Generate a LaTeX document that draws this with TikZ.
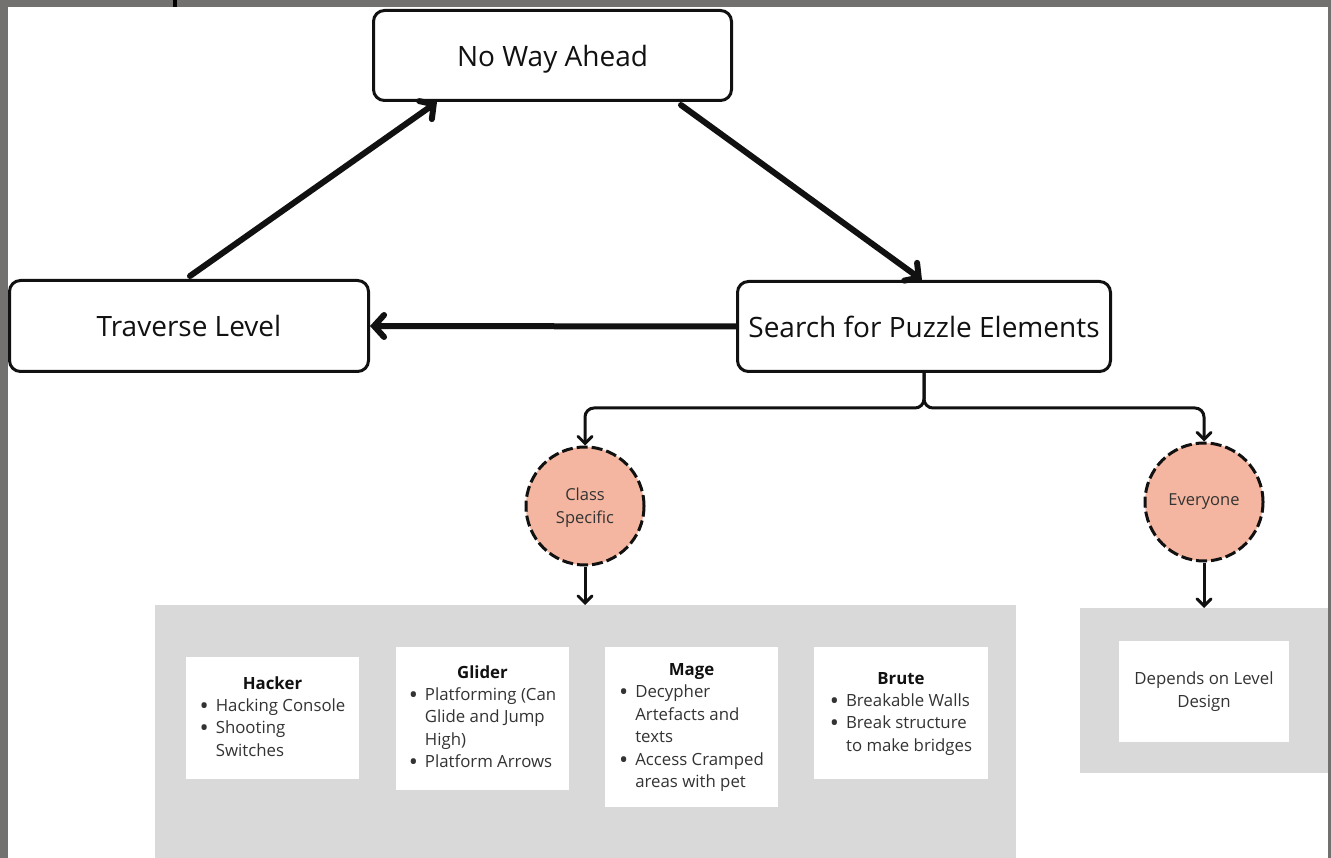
\documentclass[tikz,border=0pt]{standalone}
\usepackage{fontspec}
\setmainfont{Open Sans}
\usetikzlibrary{arrows.meta,shapes.geometric}
\definecolor{frame}{HTML}{737070}
\definecolor{panel}{HTML}{D9D9D9}
\definecolor{salmon}{HTML}{F4B6A0}
\definecolor{txt}{HTML}{333333}
\definecolor{ink}{HTML}{111111}
\tikzset{
  mainbox/.style={draw=ink,line width=3pt,rounded corners=11pt,fill=white,inner sep=0pt,
    font=\fontsize{28}{32}\selectfont,text=ink,text height=23pt,text depth=1pt},
  bigarrow/.style={draw=ink,line width=6pt,line cap=round,-{Straight Barb[length=10pt,width=22pt,line cap=round]}},
  tree/.style={draw=ink,line width=3pt,rounded corners=9pt,-{Straight Barb[length=7pt,width=14pt,line cap=round]}},
  circ/.style={circle,draw=ink,fill=salmon,line width=3pt,dash pattern=on 11pt off 4pt,inner sep=0pt,
    minimum size=118pt,align=center,font=\fontsize{16.5}{23}\selectfont,text=txt},
  panelbox/.style={fill=panel,draw=none,inner sep=0pt,anchor=north west},
  wbox/.style={fill=white,draw=none,inner sep=0pt,align=center,font=\fontsize{16.8}{22.5}\selectfont,text=txt},
}
\newcommand{\bul}{\raisebox{-3.2pt}{\scalebox{1.45}{\textbullet}}}
\begin{document}
\begin{tikzpicture}[x=1pt,y=-1pt]
\useasboundingbox (0,0) rectangle (1331,858);
% frame
\fill[frame] (0,0) rectangle (1331,858);
\fill[white] (8,7.5) rectangle (1327.7,858);
\fill[black] (172.5,0) rectangle (177,7.5);

% main boxes
\node[mainbox,minimum width=358pt,minimum height=90pt] (nowa) at (552.5,55.5) {No Way Ahead};
\node[mainbox,minimum width=359pt,minimum height=91pt] (trav) at (189,326) {Traverse Level};
\node[mainbox,minimum width=373pt,minimum height=90pt] (srch) at (924,326.5) {Search for Puzzle Elements};

% panels
\node[panelbox,minimum width=861pt,minimum height=253pt] (lpan) at (155,605) {};
\node[panelbox,minimum width=247.7pt,minimum height=165pt] (rpan) at (1080,608) {};

% circles
\node[circ] (cls) at (585,506) {\\[-8pt]Class\\Specific};
\node[circ] (evr) at (1204,502) {\raisebox{-2pt}{Everyone}};

% white boxes
\node[wbox,minimum width=173pt,minimum height=122pt] (hack) at (272.5,718) {%
\begin{tabular}{@{}c@{}}\textbf{\color{ink}Hacker}\\[-0.5pt]
\begin{tabular}[t]{@{}l@{\hspace{7pt}}l@{}}\bul&Hacking Console\\\bul&Shooting\\&Switches\end{tabular}\end{tabular}};
\node[wbox,minimum width=173pt,minimum height=143pt] (glid) at (482.5,718.5) {%
\begin{tabular}{@{}c@{}}\textbf{\color{ink}Glider}\\[-0.5pt]
\begin{tabular}[t]{@{}l@{\hspace{7pt}}l@{}}\bul&Platforming (Can\\&Glide and Jump\\&High)\\\bul&Platform Arrows\end{tabular}\end{tabular}};
\node[wbox,minimum width=173pt,minimum height=160pt] (mage) at (691.5,727) {%
\begin{tabular}{@{}c@{}}\textbf{\color{ink}Mage}\\[-0.5pt]
\begin{tabular}[t]{@{}l@{\hspace{7pt}}l@{}}\bul&Decypher\\&Artefacts and\\&texts\\\bul&Access Cramped\\&areas with pet\end{tabular}\end{tabular}};
\node[wbox,minimum width=174pt,minimum height=132pt] (brut) at (901,713) {%
\begin{tabular}{@{}c@{}}\textbf{\color{ink}Brute}\\[-0.5pt]
\begin{tabular}[t]{@{}l@{\hspace{7pt}}l@{}}\bul&Breakable Walls\\\bul&Break structure\\&to make bridges\end{tabular}\end{tabular}};
\node[wbox,minimum width=170pt,minimum height=101pt] (dep) at (1204,691.5) {Depends on Level\\Design};

% main cycle arrows
\coordinate (t1) at (190,276);
\coordinate (t2) at (681,105);
\draw[bigarrow] (t1) -- (nowa.south -| 437,0);
\draw[bigarrow] (t2) -- (srch.north -| 922,0);
\draw[bigarrow] (srch.west) -- (trav.east);

% tree
\coordinate (split) at (924,408);
\draw[tree] (srch.south) -- (split) -| (cls.north);
\draw[tree] (srch.south) -- (split) -| (evr.north);
\draw[tree,rounded corners=0pt] (cls.south) -- (cls.south |- lpan.north);
\draw[tree,rounded corners=0pt] (evr.south) -- (evr.south |- rpan.north);
\end{tikzpicture}
\end{document}
